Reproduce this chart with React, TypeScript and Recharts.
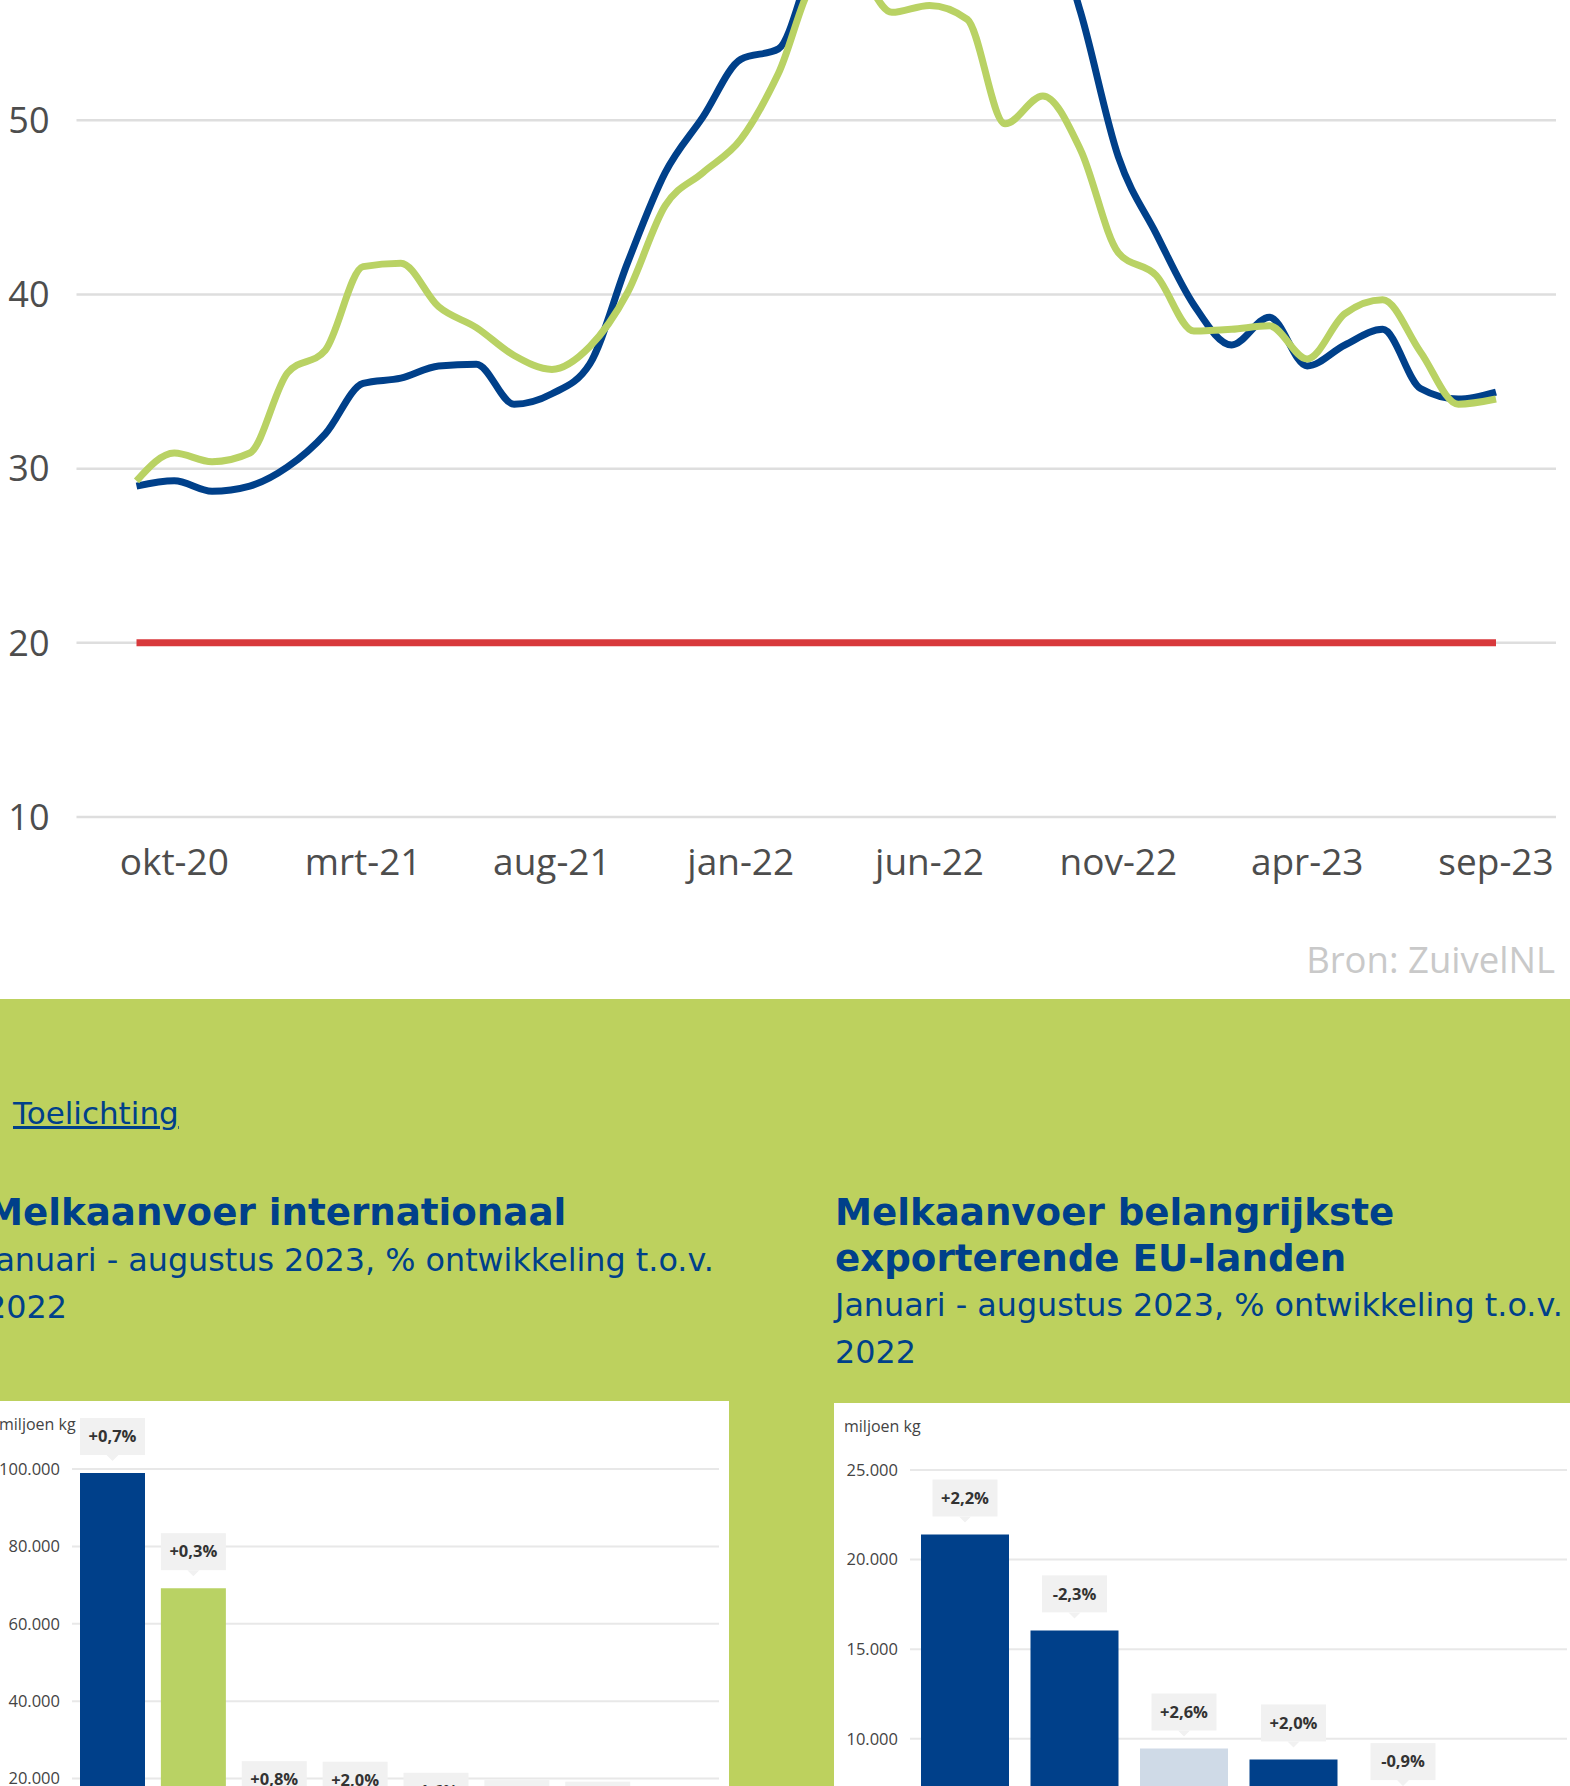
import React from "react";
import {
  LineChart,
  Line,
  XAxis,
  YAxis,
  CartesianGrid,
  BarChart,
  Bar,
  LabelList,
  Cell,
} from "recharts";

// melkprijs per maand (euro per 100 kg)
const months = [
  "sep-20", "okt-20", "nov-20", "dec-20", "jan-21", "feb-21", "mrt-21", "apr-21",
  "mei-21", "jun-21", "jul-21", "aug-21", "sep-21", "okt-21", "nov-21", "dec-21",
  "jan-22", "feb-22", "mrt-22", "apr-22", "mei-22", "jun-22", "jul-22", "aug-22",
  "sep-22", "okt-22", "nov-22", "dec-22", "jan-23", "feb-23", "mrt-23", "apr-23",
  "mei-23", "jun-23", "jul-23", "aug-23", "sep-23",
];
const priceBlue = [
  29.0, 29.3, 28.7, 29.0, 30.1, 32.0, 34.9, 35.2, 35.9, 36.0, 33.7, 34.3, 36.0,
  41.8, 47.0, 50.2, 53.5, 54.1, 59.5, 61.5, 62.5, 63.0, 63.5, 64.0, 62.5, 56.2,
  47.9, 43.5, 39.4, 37.1, 38.7, 35.9, 37.1, 38.0, 34.6, 34.0, 34.4,
];
const priceGreen = [
  29.3, 30.9, 30.4, 30.9, 35.5, 36.8, 41.6, 41.8, 39.3, 38.1, 36.5, 35.7, 37.0,
  40.1, 45.1, 47.0, 48.9, 52.7, 58.0, 58.6, 56.2, 56.6, 55.8, 49.8, 51.4, 48.3,
  42.4, 41.1, 37.9, 38.0, 38.2, 36.3, 38.9, 39.7, 36.7, 33.7, 34.0,
];
const priceRed = [
  20, 20, 20, 20, 20, 20, 20, 20, 20, 20, 20, 20, 20, 20, 20, 20, 20, 20, 20,
  20, 20, 20, 20, 20, 20, 20, 20, 20, 20, 20, 20, 20, 20, 20, 20, 20, 20,
];
const xTickLabels = ["okt-20", "mrt-21", "aug-21", "jan-22", "jun-22", "nov-22", "apr-23", "sep-23"];
const priceTicks = [10, 20, 30, 40, 50, 60, 70];

// melkaanvoer internationaal, jan-aug 2023
const intlCountries = ["EU-27", "VS", "Nieuw-Zeeland", "Brazilië", "Argentinië", "Australië", "Uruguay", "Chili"];
const intlVolume = [98950, 69200, 10300, 10150, 7300, 5400, 5000, 2900];
const intlChange = ["+0,7%", "+0,3%", "+0,8%", "+2,0%", "-1,6%", "-4,2%", "-1,5%", "+1,2%"];
const intlTicks = [0, 20000, 40000, 60000, 80000, 100000];

// melkaanvoer EU-landen, jan-aug 2023
const euCountries = ["Duitsland", "Frankrijk", "Nederland", "Polen", "Italië", "Ierland"];
const euVolume = [21400, 16050, 9460, 8850, 6690, 3900];
const euChange = ["+2,2%", "-2,3%", "+2,6%", "+2,0%", "-0,9%", "+1,1%"];
const euTicks = [0, 5000, 10000, 15000, 20000, 25000];

const BLUE = "#00408a";
const GREEN = "#b9d264";
const LIGHT = "#cfdae7";
const intlColors = [BLUE, GREEN, BLUE, BLUE, BLUE, BLUE, BLUE, BLUE];
const euColors = [BLUE, BLUE, LIGHT, BLUE, BLUE, BLUE];

const priceData = months.map((m, i) => ({
  month: m,
  blue: priceBlue[i],
  green: priceGreen[i],
  red: priceRed[i],
}));
const intlData = intlCountries.map((c, i) => ({ name: c, value: intlVolume[i], pct: intlChange[i] }));
const euData = euCountries.map((c, i) => ({ name: c, value: euVolume[i], pct: euChange[i] }));

const CHART_FONT = "'Open Sans', sans-serif";
const PAGE_FONT = "'DejaVu Sans', sans-serif";

const fmt = (v: number) => String(v).replace(/\B(?=(\d{3})+(?!\d))/g, ".");

const MonthTick = (props: any) => {
  const { x, y, payload } = props;
  if (!xTickLabels.includes(payload.value)) return <g />;
  return (
    <text x={x} y={y} dy="0.71em" textAnchor="middle" fontFamily={CHART_FONT} fontSize={37} fill="#4d4d4d">
      {payload.value}
    </text>
  );
};

const PctLabel = (props: any) => {
  const { x, y, width, value } = props;
  const cx = Number(x) + Number(width) / 2;
  const bottom = Number(y) - 18;
  const w = 65;
  const h = 37;
  return (
    <g>
      <rect x={cx - w / 2} y={bottom - h} width={w} height={h} fill="#f1f1f1" />
      <path d={`M${cx - 6},${bottom} L${cx + 6},${bottom} L${cx},${bottom + 6} Z`} fill="#f1f1f1" />
      <text
        x={cx}
        y={bottom - h / 2}
        dy="0.35em"
        textAnchor="middle"
        fontFamily={CHART_FONT}
        fontWeight={700}
        fontSize={16.5}
        fill="#333"
      >
        {value}
      </text>
    </g>
  );
};

const unitStyle: React.CSSProperties = {
  position: "absolute",
  top: 13,
  fontFamily: CHART_FONT,
  fontSize: 16,
  lineHeight: "20px",
  color: "#444",
  whiteSpace: "nowrap",
};

const titleStyle: React.CSSProperties = {
  position: "absolute",
  fontFamily: PAGE_FONT,
  fontWeight: 700,
  fontSize: 37.2,
  lineHeight: "46px",
  color: BLUE,
  whiteSpace: "nowrap",
};

const subStyle: React.CSSProperties = {
  position: "absolute",
  fontFamily: PAGE_FONT,
  fontSize: 31.8,
  lineHeight: "47px",
  color: BLUE,
  whiteSpace: "nowrap",
};

const barTick = { fontFamily: CHART_FONT, fontSize: 16.5, fill: "#444" };

export default function App() {
  return (
    <div
      style={{
        position: "absolute",
        left: 0,
        top: 0,
        width: 1570,
        height: 1786,
        overflow: "hidden",
        background: "#fff",
      }}
    >
      <div style={{ position: "absolute", left: 0, top: -228 }}>
        <LineChart width={1570} height={1145} data={priceData} margin={{ top: 0, right: 14, bottom: 0, left: 0 }}>
          <CartesianGrid vertical={false} stroke="#dedede" strokeWidth={2.5} />
          <XAxis
            dataKey="month"
            interval={0}
            tick={<MonthTick />}
            axisLine={false}
            tickLine={false}
            tickSize={0}
            tickMargin={32}
            padding={{ left: 60, right: 60 }}
            height={100}
          />
          <YAxis
            domain={[10, 70]}
            ticks={priceTicks}
            axisLine={false}
            tickLine={false}
            tickSize={0}
            tickMargin={27}
            width={76.5}
            tick={{ fontFamily: CHART_FONT, fontSize: 36, fill: "#4d4d4d" }}
          />
          <Line type="monotone" dataKey="red" stroke="#d8393c" strokeWidth={7} dot={false} isAnimationActive={false} />
          <Line type="monotone" dataKey="blue" stroke={BLUE} strokeWidth={7} dot={false} isAnimationActive={false} />
          <Line type="monotone" dataKey="green" stroke={GREEN} strokeWidth={7} dot={false} isAnimationActive={false} />
        </LineChart>
      </div>

      <div
        style={{
          position: "absolute",
          left: 0,
          top: 939,
          width: 1555,
          textAlign: "right",
          fontFamily: CHART_FONT,
          fontSize: 36.5,
          lineHeight: "40px",
          color: "#c9c9c9",
        }}
      >
        Bron: ZuivelNL
      </div>

      <div style={{ position: "absolute", left: 0, top: 999, width: 1570, height: 787, background: "#bdd15e" }} />

      <div
        style={{
          position: "absolute",
          left: 13,
          top: 1093,
          fontFamily: PAGE_FONT,
          fontSize: 31,
          lineHeight: "40px",
          color: BLUE,
          textDecoration: "underline",
        }}
      >
        Toelichting
      </div>

      <div style={{ ...titleStyle, left: -14, top: 1189 }}>Melkaanvoer internationaal</div>
      <div style={{ ...subStyle, left: -14, top: 1236 }}>
        Januari - augustus 2023, % ontwikkeling t.o.v.
        <br />
        2022
      </div>

      <div style={{ ...titleStyle, left: 835, top: 1189 }}>
        Melkaanvoer belangrijkste
        <br />
        exporterende EU-landen
      </div>
      <div style={{ ...subStyle, left: 835, top: 1281 }}>
        Januari - augustus 2023, % ontwikkeling t.o.v.
        <br />
        2022
      </div>

      <div
        style={{
          position: "absolute",
          left: -14,
          top: 1401,
          width: 743,
          height: 385,
          background: "#fff",
          overflow: "hidden",
        }}
      >
        <div style={{ ...unitStyle, left: 13 }}>miljoen kg</div>
        <BarChart width={743} height={495} data={intlData} margin={{ top: 68, right: 10, bottom: 0, left: 0 }}>
          <CartesianGrid vertical={false} stroke="#e8e8e8" strokeWidth={2} />
          <XAxis dataKey="name" axisLine={false} tickLine={false} height={40} tick={barTick} />
          <YAxis
            domain={[0, 100000]}
            ticks={intlTicks}
            tickFormatter={fmt}
            axisLine={false}
            tickLine={false}
            tickSize={0}
            tickMargin={12}
            width={86}
            tick={barTick}
          />
          <Bar dataKey="value" barSize={65} isAnimationActive={false}>
            {intlData.map((d, i) => (
              <Cell key={d.name} fill={intlColors[i]} />
            ))}
            <LabelList dataKey="pct" content={<PctLabel />} />
          </Bar>
        </BarChart>
      </div>

      <div
        style={{
          position: "absolute",
          left: 834,
          top: 1403,
          width: 743,
          height: 383,
          background: "#fff",
          overflow: "hidden",
        }}
      >
        <div style={{ ...unitStyle, left: 10 }}>miljoen kg</div>
        <BarChart width={743} height={555} data={euData} margin={{ top: 67, right: 10, bottom: 0, left: 0 }}>
          <CartesianGrid vertical={false} stroke="#e8e8e8" strokeWidth={2} />
          <XAxis dataKey="name" axisLine={false} tickLine={false} height={40} tick={barTick} />
          <YAxis
            domain={[0, 25000]}
            ticks={euTicks}
            tickFormatter={fmt}
            axisLine={false}
            tickLine={false}
            tickSize={0}
            tickMargin={12}
            width={76}
            tick={barTick}
          />
          <Bar dataKey="value" barSize={88} isAnimationActive={false}>
            {euData.map((d, i) => (
              <Cell key={d.name} fill={euColors[i]} />
            ))}
            <LabelList dataKey="pct" content={<PctLabel />} />
          </Bar>
        </BarChart>
      </div>
    </div>
  );
}
